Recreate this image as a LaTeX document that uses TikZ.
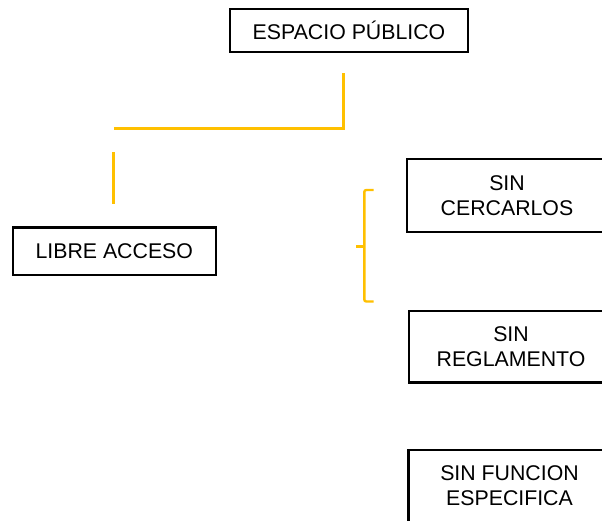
\documentclass[tikz,border=0pt]{standalone}
\usepackage{fontspec}
\setmainfont{Liberation Sans}
\begin{document}
\begin{tikzpicture}[x=1pt,y=-1pt,
  box/.style={draw=black,line width=2.3pt,rectangle,inner sep=0pt,align=center,
    font=\fontsize{21.3}{25}\selectfont},
  yl/.style={draw=yellowline,line width=2.4pt}]
\definecolor{yellowline}{HTML}{FFC000}
\useasboundingbox (0,0) rectangle (602,520);
\clip (0,0) rectangle (602,520);
\fill[white] (0,0) rectangle (602,520);
% boxes
\node[box,minimum width=238pt,minimum height=43pt] (ep) at (349,30.8) {ESPACIO PÚBLICO};
\node[box,minimum width=203pt,minimum height=47.5pt] (la) at (114.3,251.2) {LIBRE ACCESO};
\node[box,minimum width=200pt,minimum height=72.5pt] (sc) at (507,195.5) {SIN\\CERCARLOS};
\node[box,minimum width=204pt,minimum height=71.5pt] (sr) at (511,346.8) {SIN\\REGLAMENTO};
\node[box,minimum width=202pt,minimum height=72pt] (sf) at (509.5,486) {SIN FUNCION\\ESPECIFICA};
% yellow connectors
\coordinate (a1) at (343.3,73);
\coordinate (a2) at (343.3,128.5);
\coordinate (a3) at (114,128.5);
\coordinate (b1) at (113.5,152);
\coordinate (b2) at (113.5,203.5);
\draw[yl] (a1) -- (a2) -- (a3);
\draw[yl] (b1) -- (b2);
% brace
\coordinate (c1) at (373.5,190);
\coordinate (c2) at (364.3,190);
\coordinate (c3) at (364.3,301.5);
\coordinate (c4) at (373.5,301.5);
\coordinate (cm) at (364.3,246.5);
\coordinate (ct) at (356,246.5);
\draw[yl,rounded corners=2pt] (c1) -- (c2) -- (c3) -- (c4);
\draw[yl] (cm) -- (ct);
\end{tikzpicture}
\end{document}
